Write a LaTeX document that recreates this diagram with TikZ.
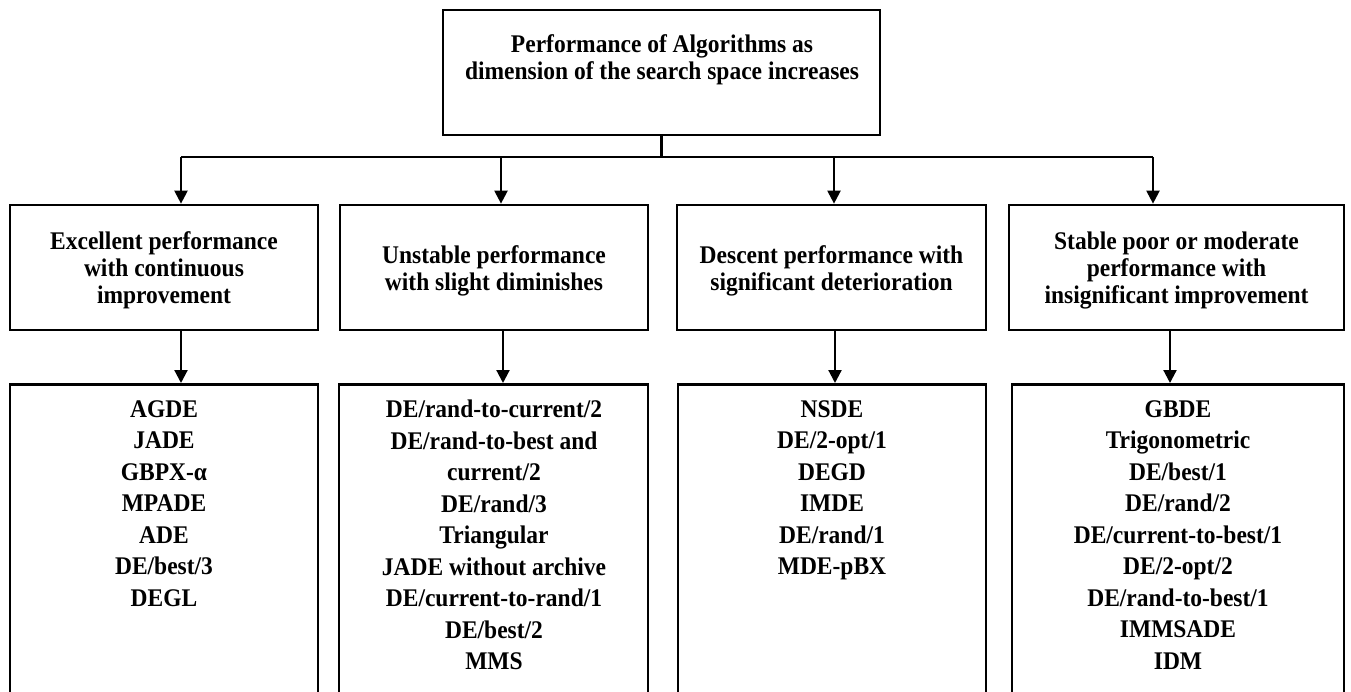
\documentclass[tikz,border=0pt]{standalone}
\usepackage{fontspec}
\setmainfont{Liberation Serif}[FakeStretch=0.925]
\usetikzlibrary{arrows.meta}
\begin{document}
\begin{tikzpicture}[x=1pt,y=-1pt,
  box/.style={draw, line width=2.7pt, inner sep=0pt, rectangle},
  headtxt/.style={font=\bfseries\fontsize{25.4}{27}\selectfont, align=center, inner sep=0pt},
  listtxt/.style={font=\bfseries\fontsize{25.4}{31.5}\selectfont, align=center, inner sep=0pt, anchor=north},
  conn/.style={line width=2.2pt},
  arr/.style={conn, -{Triangle[length=13pt,width=13pt]}}]
\useasboundingbox (0,0) rectangle (1351,692);
\clip (0,0) rectangle (1351,692);
% top box
\node[box, minimum width=437pt, minimum height=125pt] (top) at (661.5,72.5) {};
\node[headtxt, anchor=north] (toptxt) at (662,34) {Performance of Algorithms as\\dimension of the search space increases};
% row 1 boxes
\node[box, minimum width=308pt, minimum height=125pt] (b1) at (164,267.5) {};
\node[box, minimum width=308pt, minimum height=125pt] (b2) at (494,267.5) {};
\node[box, minimum width=309pt, minimum height=125pt] (b3) at (831.5,267.5) {};
\node[box, minimum width=335pt, minimum height=125pt] (b4) at (1176.5,267.5) {};
% row 1 texts
\node[headtxt] (bt1) at (164,270.5) {Excellent performance\\with continuous\\improvement};
\node[headtxt] (bt2) at (494,270.5) {Unstable performance\\with slight diminishes};
\node[headtxt] (bt3) at (831.5,270.5) {Descent performance with\\significant deterioration};
\node[headtxt] (bt4) at (1176.5,270.5) {Stable poor or moderate\\performance with\\insignificant improvement};
% row 2 boxes
\node[box, anchor=north, minimum width=308pt, minimum height=400pt] (c1) at (164,383) {};
\node[box, anchor=north, minimum width=309pt, minimum height=400pt] (c2) at (493.5,383) {};
\node[box, anchor=north, minimum width=308pt, minimum height=400pt] (c3) at (832,383) {};
\node[box, anchor=north, minimum width=332pt, minimum height=400pt] (c4) at (1178,383) {};
% row 2 texts
\node[listtxt] (t1) at (164,400) {AGDE\\JADE\\GBPX-α\\MPADE\\ADE\\DE/best/3\\DEGL};
\node[listtxt] (t2) at (494,400) {DE/rand-to-current/2\\DE/rand-to-best and\\current/2\\DE/rand/3\\Triangular\\JADE without archive\\DE/current-to-rand/1\\DE/best/2\\MMS};
\node[listtxt] (t3) at (832,400) {NSDE\\DE/2-opt/1\\DEGD\\IMDE\\DE/rand/1\\MDE-pBX};
\node[listtxt] (t4) at (1178,400) {GBDE\\Trigonometric\\DE/best/1\\DE/rand/2\\DE/current-to-best/1\\DE/2-opt/2\\DE/rand-to-best/1\\IMMSADE\\IDM};
% connectors
\coordinate (j) at (661.5,157);
\coordinate (jl) at (181,157);
\coordinate (jr) at (1153,157);
\coordinate (x2) at (501,157);
\coordinate (x3) at (834,157);
\draw[conn] (top.south) -- (j);
\draw[conn] (jl) -- (jr);
\draw[arr] (jl) -- (jl |- b1.north);
\draw[arr] (x2) -- (x2 |- b2.north);
\draw[arr] (x3) -- (x3 |- b3.north);
\draw[arr] (jr) -- (jr |- b4.north);
\coordinate (d1) at (181,0);
\coordinate (d2) at (503,0);
\coordinate (d3) at (835,0);
\coordinate (d4) at (1170,0);
\draw[arr] (d1 |- b1.south) -- (d1 |- c1.north);
\draw[arr] (d2 |- b2.south) -- (d2 |- c2.north);
\draw[arr] (d3 |- b3.south) -- (d3 |- c3.north);
\draw[arr] (d4 |- b4.south) -- (d4 |- c4.north);
\end{tikzpicture}
\end{document}
